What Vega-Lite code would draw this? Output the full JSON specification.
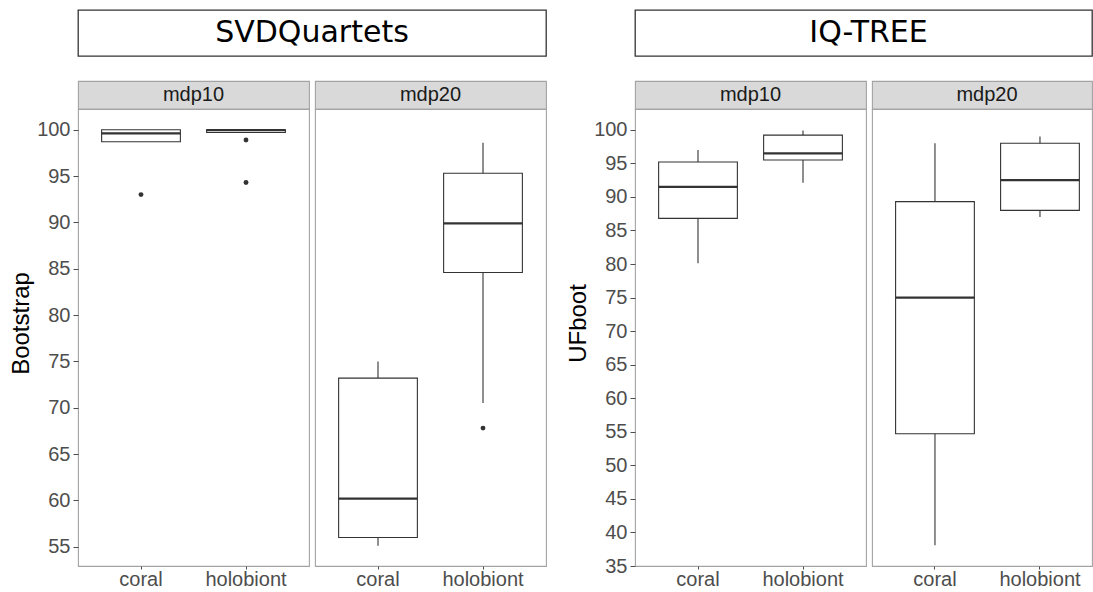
{
  "$schema": "https://vega.github.io/schema/vega-lite/v6.json",
  "padding": {"left": 6, "top": 9, "right": 0, "bottom": 0},
  "background": "white",
  "config": {
    "font": "Liberation Sans",
    "view": {"stroke": "#a3a3a3"},
    "axis": {"grid": false, "domain": false, "labelColor": "#4d4d4d", "tickColor": "#4d4d4d", "titleColor": "#000000", "titleFontWeight": "normal", "labelFont": "Liberation Sans", "titleFont": "Liberation Sans"}
  },
  "datasets": {
    "boxes": [
      {"method": "SVDQuartets", "panel": "mdp10", "group": "coral", "min": 98.7, "q1": 98.7, "median": 99.6, "q3": 100, "max": 100},
      {"method": "SVDQuartets", "panel": "mdp10", "group": "holobiont", "min": 99.7, "q1": 99.7, "median": 99.95, "q3": 100, "max": 100},
      {"method": "SVDQuartets", "panel": "mdp20", "group": "coral", "min": 55.1, "q1": 56.0, "median": 60.2, "q3": 73.2, "max": 75.0},
      {"method": "SVDQuartets", "panel": "mdp20", "group": "holobiont", "min": 70.5, "q1": 84.6, "median": 89.9, "q3": 95.3, "max": 98.6},
      {"method": "IQ-TREE", "panel": "mdp10", "group": "coral", "min": 80.1, "q1": 86.8, "median": 91.5, "q3": 95.2, "max": 97.0},
      {"method": "IQ-TREE", "panel": "mdp10", "group": "holobiont", "min": 92.1, "q1": 95.5, "median": 96.5, "q3": 99.2, "max": 99.9},
      {"method": "IQ-TREE", "panel": "mdp20", "group": "coral", "min": 38.1, "q1": 54.7, "median": 75.0, "q3": 89.3, "max": 98.0},
      {"method": "IQ-TREE", "panel": "mdp20", "group": "holobiont", "min": 87.0, "q1": 88.0, "median": 92.5, "q3": 98.0, "max": 99.0}
    ],
    "outliers": [
      {"method": "SVDQuartets", "panel": "mdp10", "group": "coral", "value": 93.0},
      {"method": "SVDQuartets", "panel": "mdp10", "group": "holobiont", "value": 98.9},
      {"method": "SVDQuartets", "panel": "mdp10", "group": "holobiont", "value": 94.3},
      {"method": "SVDQuartets", "panel": "mdp20", "group": "holobiont", "value": 67.8}
    ],
    "titles": [
      {"method": "SVDQuartets", "label": "SVDQuartets"},
      {"method": "IQ-TREE", "label": "IQ-TREE"}
    ],
    "strips": [
      {"method": "SVDQuartets", "panel": "mdp10"},
      {"method": "SVDQuartets", "panel": "mdp20"},
      {"method": "IQ-TREE", "panel": "mdp10"},
      {"method": "IQ-TREE", "panel": "mdp20"}
    ]
  },
  "spacing": 16,
  "hconcat": [
    {
      "spacing": 23,
      "vconcat": [
        {
          "data": {"name": "titles"},
          "transform": [{"filter": "datum.method === 'SVDQuartets'"}],
          "width": 468, "height": 46,
          "view": {"stroke": "#333333", "strokeWidth": 1.3, "fill": "white"},
          "mark": {"type": "text", "font": "DejaVu Sans", "fontSize": 30, "color": "#000000"},
          "encoding": {
            "text": {"field": "label"},
            "y": {"datum": "t", "type": "nominal", "axis": {"title": null, "labels": false, "ticks": false, "domain": false, "minExtent": 71, "maxExtent": 71}}
          }
        },
        {
          "columns": 2,
          "bounds": "flush",
          "spacing": {"row": 0, "column": 6},
          "concat": [
            {
              "data": {"name": "strips"},
              "transform": [{"filter": "datum.method === 'SVDQuartets' && datum.panel === 'mdp10'"}],
              "width": 231, "height": 28,
              "view": {"fill": "#d9d9d9", "stroke": "#a3a3a3", "strokeWidth": 1.1},
              "mark": {"type": "text", "fontSize": 20, "color": "#1a1a1a"},
              "encoding": {"text": {"field": "panel"}}
            },
            {
              "data": {"name": "strips"},
              "transform": [{"filter": "datum.method === 'SVDQuartets' && datum.panel === 'mdp20'"}],
              "width": 231, "height": 28,
              "view": {"fill": "#d9d9d9", "stroke": "#a3a3a3", "strokeWidth": 1.1},
              "mark": {"type": "text", "fontSize": 20, "color": "#1a1a1a"},
              "encoding": {"text": {"field": "panel"}}
            },
            {
              "width": 231, "height": 457,
              "view": {"stroke": "#a3a3a3", "strokeWidth": 1.1},
              "encoding": {
                "x": {"field": "group", "type": "nominal", "scale": {"domain": ["coral", "holobiont"], "paddingInner": 0.25, "paddingOuter": 0.225}, "axis": {"title": null, "labelAngle": 0, "labelFontSize": 20, "tickSize": 3, "labelPadding": 0}}
              },
              "layer": [
                {"data": {"name": "boxes"}, "transform": [{"filter": "datum.method === 'SVDQuartets' && datum.panel === 'mdp10'"}],
                 "mark": {"type": "rule", "color": "#333333", "strokeWidth": 1.1},
                 "encoding": {"y": {"field": "min", "type": "quantitative", "scale": {"domain": [52.92, 102.24], "nice": false, "zero": false}, "axis": {"title": "Bootstrap", "titleFontSize": 24, "titlePadding": 3, "titleY": 214, "labelFontSize": 20, "tickSize": 5, "labelPadding": 3, "minExtent": 42, "maxExtent": 42, "values": [55, 60, 65, 70, 75, 80, 85, 90, 95, 100]}}, "y2": {"field": "max"}}},
                {"data": {"name": "boxes"}, "transform": [{"filter": "datum.method === 'SVDQuartets' && datum.panel === 'mdp10'"}],
                 "mark": {"type": "bar", "fill": "white", "stroke": "#333333", "strokeWidth": 1.1},
                 "encoding": {"y": {"field": "q1", "type": "quantitative", "scale": {"domain": [52.92, 102.24], "nice": false, "zero": false}, "axis": {"title": "Bootstrap", "titleFontSize": 24, "titlePadding": 3, "titleY": 214, "labelFontSize": 20, "tickSize": 5, "labelPadding": 3, "minExtent": 42, "maxExtent": 42, "values": [55, 60, 65, 70, 75, 80, 85, 90, 95, 100]}}, "y2": {"field": "q3"}}},
                {"data": {"name": "boxes"}, "transform": [{"filter": "datum.method === 'SVDQuartets' && datum.panel === 'mdp10'"}],
                 "mark": {"type": "tick", "color": "#333333", "size": 79, "thickness": 2.2, "opacity": 1},
                 "encoding": {"y": {"field": "median", "type": "quantitative", "scale": {"domain": [52.92, 102.24], "nice": false, "zero": false}, "axis": {"title": "Bootstrap", "titleFontSize": 24, "titlePadding": 3, "titleY": 214, "labelFontSize": 20, "tickSize": 5, "labelPadding": 3, "minExtent": 42, "maxExtent": 42, "values": [55, 60, 65, 70, 75, 80, 85, 90, 95, 100]}}}},
                {"data": {"name": "outliers"}, "transform": [{"filter": "datum.method === 'SVDQuartets' && datum.panel === 'mdp10'"}],
                 "mark": {"type": "circle", "color": "#333333", "size": 24, "opacity": 1},
                 "encoding": {"y": {"field": "value", "type": "quantitative", "scale": {"domain": [52.92, 102.24], "nice": false, "zero": false}, "axis": {"title": "Bootstrap", "titleFontSize": 24, "titlePadding": 3, "titleY": 214, "labelFontSize": 20, "tickSize": 5, "labelPadding": 3, "minExtent": 42, "maxExtent": 42, "values": [55, 60, 65, 70, 75, 80, 85, 90, 95, 100]}}}}
              ]
            },
            {
              "width": 231, "height": 457,
              "view": {"stroke": "#a3a3a3", "strokeWidth": 1.1},
              "encoding": {
                "x": {"field": "group", "type": "nominal", "scale": {"domain": ["coral", "holobiont"], "paddingInner": 0.25, "paddingOuter": 0.225}, "axis": {"title": null, "labelAngle": 0, "labelFontSize": 20, "tickSize": 3, "labelPadding": 0}}
              },
              "layer": [
                {"data": {"name": "boxes"}, "transform": [{"filter": "datum.method === 'SVDQuartets' && datum.panel === 'mdp20'"}],
                 "mark": {"type": "rule", "color": "#333333", "strokeWidth": 1.1},
                 "encoding": {"y": {"field": "min", "type": "quantitative", "scale": {"domain": [52.92, 102.24], "nice": false, "zero": false}, "axis": null}, "y2": {"field": "max"}}},
                {"data": {"name": "boxes"}, "transform": [{"filter": "datum.method === 'SVDQuartets' && datum.panel === 'mdp20'"}],
                 "mark": {"type": "bar", "fill": "white", "stroke": "#333333", "strokeWidth": 1.1},
                 "encoding": {"y": {"field": "q1", "type": "quantitative", "scale": {"domain": [52.92, 102.24], "nice": false, "zero": false}, "axis": null}, "y2": {"field": "q3"}}},
                {"data": {"name": "boxes"}, "transform": [{"filter": "datum.method === 'SVDQuartets' && datum.panel === 'mdp20'"}],
                 "mark": {"type": "tick", "color": "#333333", "size": 79, "thickness": 2.2, "opacity": 1},
                 "encoding": {"y": {"field": "median", "type": "quantitative", "scale": {"domain": [52.92, 102.24], "nice": false, "zero": false}, "axis": null}}},
                {"data": {"name": "outliers"}, "transform": [{"filter": "datum.method === 'SVDQuartets' && datum.panel === 'mdp20'"}],
                 "mark": {"type": "circle", "color": "#333333", "size": 24, "opacity": 1},
                 "encoding": {"y": {"field": "value", "type": "quantitative", "scale": {"domain": [52.92, 102.24], "nice": false, "zero": false}, "axis": null}}}
              ]
            }
          ]
        }
      ]
    },
    {
      "spacing": 23,
      "vconcat": [
        {
          "data": {"name": "titles"},
          "transform": [{"filter": "datum.method === 'IQ-TREE'"}],
          "width": 457, "height": 46,
          "view": {"stroke": "#333333", "strokeWidth": 1.3, "fill": "white"},
          "mark": {"type": "text", "font": "DejaVu Sans", "fontSize": 30, "color": "#000000", "dx": 5},
          "encoding": {
            "text": {"field": "label"},
            "y": {"datum": "t", "type": "nominal", "axis": {"title": null, "labels": false, "ticks": false, "domain": false, "minExtent": 71, "maxExtent": 71}}
          }
        },
        {
          "columns": 2,
          "bounds": "flush",
          "spacing": {"row": 0, "column": 6},
          "concat": [
            {
              "data": {"name": "strips"},
              "transform": [{"filter": "datum.method === 'IQ-TREE' && datum.panel === 'mdp10'"}],
              "width": 231, "height": 28,
              "view": {"fill": "#d9d9d9", "stroke": "#a3a3a3", "strokeWidth": 1.1},
              "mark": {"type": "text", "fontSize": 20, "color": "#1a1a1a"},
              "encoding": {"text": {"field": "panel"}}
            },
            {
              "data": {"name": "strips"},
              "transform": [{"filter": "datum.method === 'IQ-TREE' && datum.panel === 'mdp20'"}],
              "width": 220, "height": 28,
              "view": {"fill": "#d9d9d9", "stroke": "#a3a3a3", "strokeWidth": 1.1},
              "mark": {"type": "text", "fontSize": 20, "color": "#1a1a1a", "dx": 5},
              "encoding": {"text": {"field": "panel"}}
            },
            {
              "width": 231, "height": 457,
              "view": {"stroke": "#a3a3a3", "strokeWidth": 1.1},
              "encoding": {
                "x": {"field": "group", "type": "nominal", "scale": {"domain": ["coral", "holobiont"], "paddingInner": 0.25, "paddingOuter": 0.225}, "axis": {"title": null, "labelAngle": 0, "labelFontSize": 20, "tickSize": 3, "labelPadding": 0}}
              },
              "layer": [
                {"data": {"name": "boxes"}, "transform": [{"filter": "datum.method === 'IQ-TREE' && datum.panel === 'mdp10'"}],
                 "mark": {"type": "rule", "color": "#333333", "strokeWidth": 1.1},
                 "encoding": {"y": {"field": "min", "type": "quantitative", "scale": {"domain": [35, 103.1], "nice": false, "zero": false}, "axis": {"title": "UFboot", "titleFontSize": 24, "titlePadding": 3, "titleY": 214, "labelFontSize": 20, "tickSize": 5, "labelPadding": 3, "minExtent": 42, "maxExtent": 42, "values": [35, 40, 45, 50, 55, 60, 65, 70, 75, 80, 85, 90, 95, 100]}}, "y2": {"field": "max"}}},
                {"data": {"name": "boxes"}, "transform": [{"filter": "datum.method === 'IQ-TREE' && datum.panel === 'mdp10'"}],
                 "mark": {"type": "bar", "fill": "white", "stroke": "#333333", "strokeWidth": 1.1},
                 "encoding": {"y": {"field": "q1", "type": "quantitative", "scale": {"domain": [35, 103.1], "nice": false, "zero": false}, "axis": {"title": "UFboot", "titleFontSize": 24, "titlePadding": 3, "titleY": 214, "labelFontSize": 20, "tickSize": 5, "labelPadding": 3, "minExtent": 42, "maxExtent": 42, "values": [35, 40, 45, 50, 55, 60, 65, 70, 75, 80, 85, 90, 95, 100]}}, "y2": {"field": "q3"}}},
                {"data": {"name": "boxes"}, "transform": [{"filter": "datum.method === 'IQ-TREE' && datum.panel === 'mdp10'"}],
                 "mark": {"type": "tick", "color": "#333333", "size": 79, "thickness": 2.2, "opacity": 1},
                 "encoding": {"y": {"field": "median", "type": "quantitative", "scale": {"domain": [35, 103.1], "nice": false, "zero": false}, "axis": {"title": "UFboot", "titleFontSize": 24, "titlePadding": 3, "titleY": 214, "labelFontSize": 20, "tickSize": 5, "labelPadding": 3, "minExtent": 42, "maxExtent": 42, "values": [35, 40, 45, 50, 55, 60, 65, 70, 75, 80, 85, 90, 95, 100]}}}}
              ]
            },
            {
              "width": 220, "height": 457,
              "view": {"stroke": "#a3a3a3", "strokeWidth": 1.1},
              "encoding": {
                "x": {"field": "group", "type": "nominal", "scale": {"domain": ["coral", "holobiont"], "paddingInner": 0.25, "paddingOuter": 0.1726, "align": 0.651}, "axis": {"title": null, "labelAngle": 0, "labelFontSize": 20, "tickSize": 3, "labelPadding": 0}}
              },
              "layer": [
                {"data": {"name": "boxes"}, "transform": [{"filter": "datum.method === 'IQ-TREE' && datum.panel === 'mdp20'"}],
                 "mark": {"type": "rule", "color": "#333333", "strokeWidth": 1.1},
                 "encoding": {"y": {"field": "min", "type": "quantitative", "scale": {"domain": [35, 103.1], "nice": false, "zero": false}, "axis": null}, "y2": {"field": "max"}}},
                {"data": {"name": "boxes"}, "transform": [{"filter": "datum.method === 'IQ-TREE' && datum.panel === 'mdp20'"}],
                 "mark": {"type": "bar", "fill": "white", "stroke": "#333333", "strokeWidth": 1.1},
                 "encoding": {"y": {"field": "q1", "type": "quantitative", "scale": {"domain": [35, 103.1], "nice": false, "zero": false}, "axis": null}, "y2": {"field": "q3"}}},
                {"data": {"name": "boxes"}, "transform": [{"filter": "datum.method === 'IQ-TREE' && datum.panel === 'mdp20'"}],
                 "mark": {"type": "tick", "color": "#333333", "size": 79, "thickness": 2.2, "opacity": 1},
                 "encoding": {"y": {"field": "median", "type": "quantitative", "scale": {"domain": [35, 103.1], "nice": false, "zero": false}, "axis": null}}}
              ]
            }
          ]
        }
      ]
    }
  ]
}
